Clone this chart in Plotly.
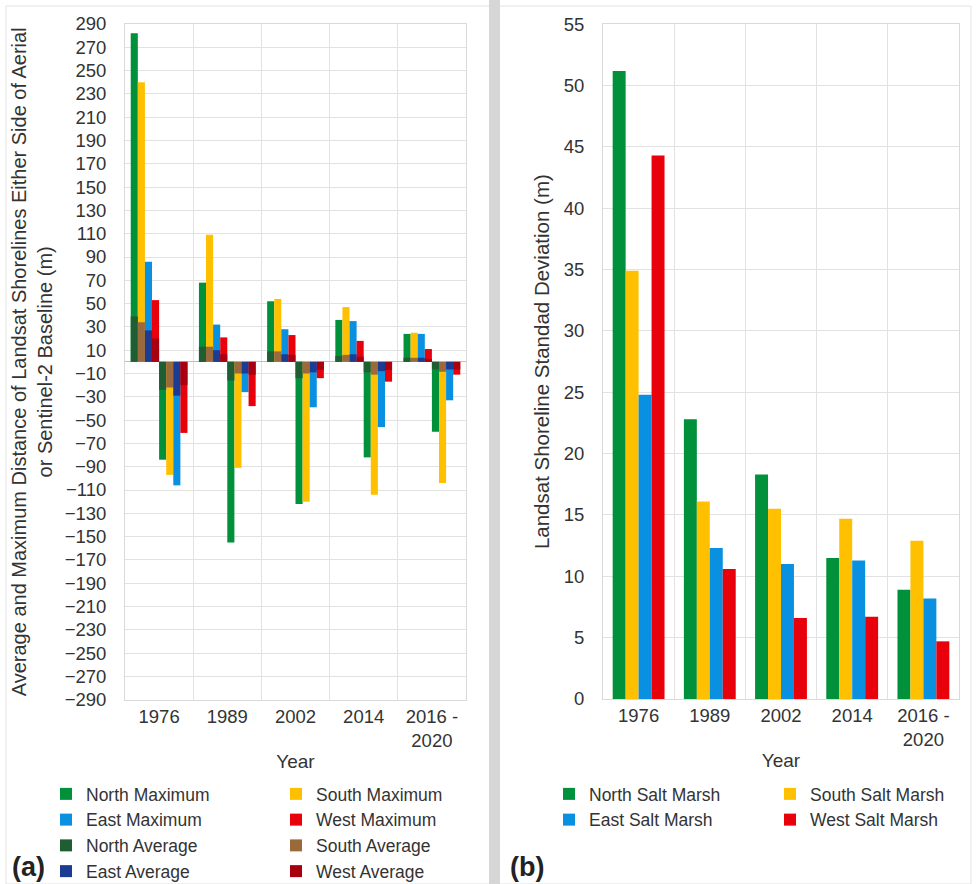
import plotly.graph_objects as go

W, H = 977, 884

years = ["1976", "1989", "2002", "2014", "2016 -<br>2020"]
directions = ["North", "South", "East", "West"]

# (a) distance of Landsat shorelines either side of the baseline (m)
max_positive = {
    "North": [282, 68, 52, 36, 24],
    "South": [240, 109, 54, 47, 25],
    "East": [86, 32, 28, 35, 24],
    "West": [53, 21, 23, 18, 11],
}
max_negative = {
    "North": [-84, -155, -122, -82, -60],
    "South": [-97, -91, -120, -114, -104],
    "East": [-106, -26, -39, -56, -33],
    "West": [-61, -38, -14, -17, -11],
}
avg_positive = {
    "North": [39, 13, 9, 5, 3.5],
    "South": [34, 13, 9, 6, 3.5],
    "East": [27, 10, 6.5, 6.5, 3.5],
    "West": [20, 6.5, 6, 4.5, 2.5],
}
avg_negative = {
    "North": [-24, -16, -14, -9, -6.5],
    "South": [-22, -10, -10, -11, -8.5],
    "East": [-29, -10, -9, -8, -6.5],
    "West": [-20, -11, -7, -7, -6.5],
}

# (b) Landsat shoreline standard deviation per salt marsh (m)
salt_marsh_sd = {
    "North": [51.2, 22.8, 18.3, 11.5, 8.9],
    "South": [34.9, 16.1, 15.5, 14.7, 12.9],
    "East": [24.8, 12.3, 11.0, 11.3, 8.2],
    "West": [44.3, 10.6, 6.6, 6.7, 4.7],
}

max_colors = {"North": "#00913A", "South": "#FFC000", "East": "#0A90E0", "West": "#E8000B"}
avg_colors = {"North": "#1E5E32", "South": "#9A6A3C", "East": "#1C3C94", "West": "#A8000F"}

# legend column for each direction (two columns per panel)
left_legend = {"North": "legend", "East": "legend", "South": "legend2", "West": "legend2"}
right_legend = {"North": "legend3", "East": "legend3", "South": "legend4", "West": "legend4"}

TEXT = "#333333"
GRID = "#E2E2E2"
FONT = "Arial, Liberation Sans, sans-serif"


def px_x(x):
    return x / W


def px_y(y):
    return 1 - y / H


fig = go.Figure()

# panel (a): eight slots per year, four above and four below the baseline
bw_a = 0.104
start_a = -4 * bw_a


def add_left(values, colors, slot, suffix, show):
    for i, d in enumerate(directions):
        fig.add_trace(go.Bar(
            x=years, y=values[d], name=f"{d} {suffix}",
            marker=dict(color=colors[d], line=dict(width=0)),
            width=bw_a, offset=start_a + (slot + i) * bw_a,
            legend=left_legend[d], legendgroup=f"{d} {suffix}", showlegend=show,
            xaxis="x", yaxis="y",
        ))


add_left(max_positive, max_colors, 0, "Maximum", True)
add_left(max_negative, max_colors, 4, "Maximum", False)
add_left(avg_positive, avg_colors, 0, "Average", True)
add_left(avg_negative, avg_colors, 4, "Average", False)

# panel (b): grouped standard deviation bars
bw_b = 0.182
start_b = -2 * bw_b
for i, d in enumerate(directions):
    fig.add_trace(go.Bar(
        x=years, y=salt_marsh_sd[d], name=f"{d} Salt Marsh",
        marker=dict(color=max_colors[d], line=dict(width=0)),
        width=bw_b, offset=start_b + i * bw_b,
        legend=right_legend[d], xaxis="x2", yaxis="y2",
    ))

axis_common = dict(
    showgrid=True, gridcolor=GRID, gridwidth=1,
    showline=True, linecolor="#D9D9D9", mirror=True,
    ticks="", tickfont=dict(size=18.5, color=TEXT),
    zeroline=False,
)

LEG_FONT = dict(size=17.5, color=TEXT)
LEG_TOP = px_y(776)


def legend_at(x_px):
    return dict(
        orientation="v", x=px_x(x_px), y=LEG_TOP, xanchor="left", yanchor="top",
        traceorder="normal", font=LEG_FONT, itemwidth=30, tracegroupgap=0,
        bgcolor="rgba(0,0,0,0)", borderwidth=0,
    )


fig.update_layout(
    width=W, height=H,
    margin=dict(l=0, r=0, t=0, b=0, autoexpand=False),
    paper_bgcolor="white", plot_bgcolor="white",
    font=dict(family=FONT, color=TEXT, size=18),
    barmode="overlay",
    xaxis=dict(
        domain=[px_x(125), px_x(466)], type="category", tickson="boundaries",
        title=dict(text="Year", font=dict(size=19), standoff=4),
        anchor="y", **axis_common,
    ),
    yaxis=dict(
        domain=[px_y(699.7), px_y(24)], range=[-290, 290],
        tickmode="linear", tick0=-290, dtick=20,
        ticklabelstandoff=14,
        title=dict(
            text="Average and Maximum Distance of Landsat Shorelines Either Side of Aerial"
                 "<br>or Sentinel-2 Baseline (m)",
            font=dict(size=20), standoff=6,
        ),
        anchor="x", **{**axis_common, "zeroline": True},
        zerolinecolor="#BFBFBF", zerolinewidth=1,
    ),
    xaxis2=dict(
        domain=[px_x(603), px_x(959)], type="category", tickson="boundaries",
        title=dict(text="Year", font=dict(size=19), standoff=4),
        anchor="y2", **axis_common,
    ),
    yaxis2=dict(
        domain=[px_y(699), px_y(24.3)], range=[0, 55],
        tickmode="linear", tick0=0, dtick=5,
        ticklabelstandoff=14,
        title=dict(text="Landsat Shoreline Standad Deviation (m)",
                   font=dict(size=20.5), standoff=8),
        anchor="x2", **axis_common,
    ),
    legend=legend_at(46),
    legend2=legend_at(276),
    legend3=legend_at(549),
    legend4=legend_at(770),
    annotations=[
        dict(text="<b>(a)</b>", x=px_x(10), y=px_y(867), xref="paper", yref="paper",
             xanchor="left", yanchor="middle", showarrow=False,
             font=dict(size=27, color="#222222")),
        dict(text="<b>(b)</b>", x=px_x(508), y=px_y(867), xref="paper", yref="paper",
             xanchor="left", yanchor="middle", showarrow=False,
             font=dict(size=27, color="#222222")),
    ],
    shapes=[
        dict(type="rect", xref="paper", yref="paper",
             x0=px_x(6), x1=px_x(971), y0=px_y(884), y1=px_y(6),
             line=dict(color="#E3E3E3", width=1), fillcolor="rgba(0,0,0,0)", layer="below"),
        dict(type="rect", xref="paper", yref="paper",
             x0=px_x(489), x1=px_x(500), y0=0, y1=1,
             line=dict(width=0), fillcolor="#D6D6D6", layer="above"),
    ],
)

fig.write_html("out.html")
